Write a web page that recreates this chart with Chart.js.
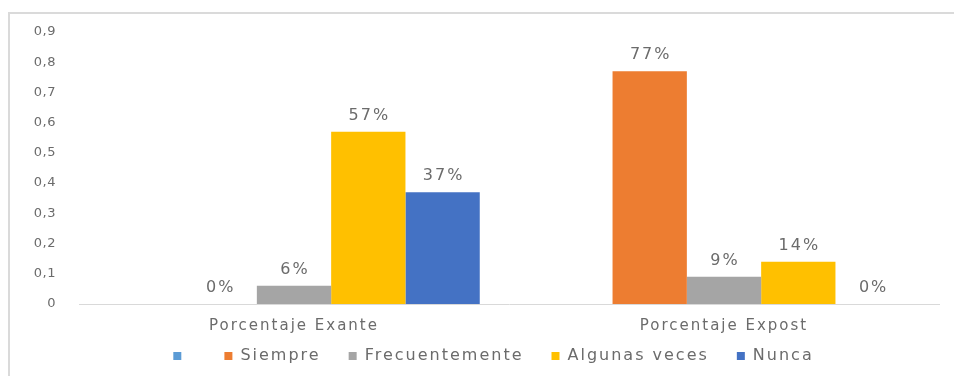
<!DOCTYPE html>
<html>
<head>
<meta charset="utf-8">
<script src="https://cdn.jsdelivr.net/npm/chart.js@4"></script>
<style>
  html, body { margin: 0; padding: 0; background: #fff; }
  #marco { position: absolute; left: 8px; top: 12px; width: 960px; height: 400px;
           border-left: 2px solid #dadada; border-top: 2px solid #dadada; }
  #grafico { position: absolute; left: 0; top: 0; }
</style>
</head>
<body>
<div id="marco"></div>
<canvas id="grafico" width="954" height="376"></canvas>
<script>
const categorias = ["Porcentaje Exante", "Porcentaje Expost"];
const serieVacia = [null, null];
const siempre = [0, 0.77];
const frecuentemente = [0.06, 0.09];
const algunasVeces = [0.57, 0.14];
const nunca = [0.37, 0];
const ticksY = [0, 0.1, 0.2, 0.3, 0.4, 0.5, 0.6, 0.7, 0.8, 0.9];

const gris = "#6b6b6b";
const fuente = "'DejaVu Sans'";

// separacion entre letras, el original va bastante espaciado
const espaciado = {
    id: 'espaciado',
    beforeUpdate(chart) { chart.ctx.letterSpacing = '2px'; },
    beforeDraw(chart) { chart.ctx.letterSpacing = '2px'; }
};

// etiquetas de porcentaje encima de las barras
const etiquetas = {
    id: 'etiquetas',
    afterDatasetsDraw(chart) {
        const ctx = chart.ctx;
        ctx.save();
        ctx.font = "16px " + fuente;
        ctx.fillStyle = gris;
        ctx.textAlign = 'center';
        ctx.textBaseline = 'bottom';
        chart.data.datasets.forEach((ds, i) => {
            const meta = chart.getDatasetMeta(i);
            meta.data.forEach((barra, j) => {
                const v = ds.data[j];
                if (v === null || v === undefined) return;
                ctx.fillText(Math.round(v * 100) + "%", barra.x + 1, barra.y - 8);
            });
        });
        ctx.restore();
    }
};

// sin recorte de las etiquetas de los ejes
function sinRecorte(s) { s._computeLabelArea = () => undefined; }

// el eje y va sin espaciado extra
function ejeYJunto(s) {
    if (s._junto) return;
    s._junto = true;
    const original = s.drawLabels.bind(s);
    s.drawLabels = (area) => {
        const ctx = s.ctx;
        ctx.letterSpacing = '0.5px';
        original(area);
        ctx.letterSpacing = '2px';
    };
}

new Chart(document.getElementById('grafico').getContext('2d'), {
    type: 'bar',
    data: {
        labels: categorias,
        datasets: [
            { label: " ", data: serieVacia, backgroundColor: "#5B9BD5" },
            { label: "Siempre", data: siempre, backgroundColor: "#ED7D31" },
            { label: "Frecuentemente", data: frecuentemente, backgroundColor: "#A5A5A5" },
            { label: "Algunas veces", data: algunasVeces, backgroundColor: "#FFC000" },
            { label: "Nunca", data: nunca, backgroundColor: "#4472C4" }
        ]
    },
    options: {
        responsive: false,
        animation: false,
        datasets: { bar: { barPercentage: 1, categoryPercentage: 0.864 } },
        layout: { padding: { left: 48, right: 15, top: 32, bottom: 2 } },
        scales: {
            y: {
                min: 0,
                max: 0.9,
                afterFit(s) { s.width = 31; sinRecorte(s); ejeYJunto(s); },
                afterBuildTicks(s) { s.ticks = ticksY.map(v => ({ value: v })); },
                grid: { display: false, drawTicks: false },
                border: { display: false },
                ticks: {
                    padding: 23,
                    color: gris,
                    font: { family: fuente, size: 13 },
                    callback: v => v === 0 ? "0" : v.toFixed(1).replace(".", ",")
                }
            },
            x: {
                afterFit(s) { s.height = 16; sinRecorte(s); },
                grid: { display: false, drawTicks: false },
                border: { display: true, color: "#d9d9d9", width: 1 },
                ticks: {
                    padding: 13,
                    color: gris,
                    font: { family: fuente, size: 15 }
                }
            }
        },
        plugins: {
            tooltip: { enabled: false },
            legend: {
                position: 'bottom',
                labels: {
                    boxWidth: 8,
                    boxHeight: 8,
                    padding: 28,
                    color: gris,
                    font: { family: fuente, size: 16 }
                }
            }
        }
    },
    plugins: [espaciado, etiquetas]
});
</script>
</body>
</html>
